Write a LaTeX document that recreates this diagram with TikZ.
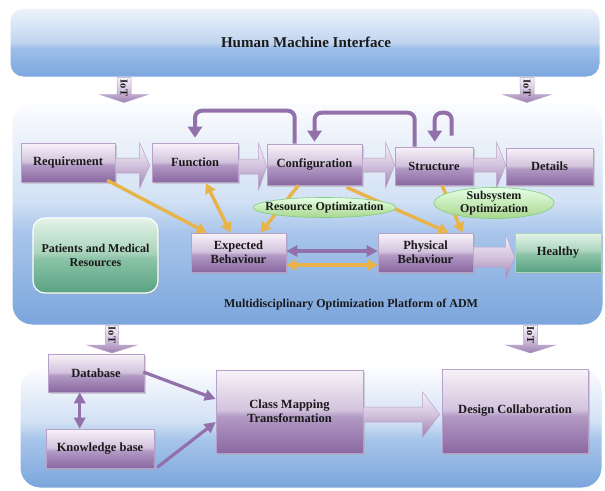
\documentclass[tikz,border=0pt]{standalone}
\usepackage{fontspec}
\setmainfont{Liberation Serif}
\usetikzlibrary{arrows.meta,calc,shapes.geometric,shadows}
\definecolor{pA}{HTML}{8A68A2}
\definecolor{pB}{HTML}{B29AC4}
\definecolor{pC}{HTML}{D3C3DD}
\definecolor{pD}{HTML}{F7F3F9}
\definecolor{bA}{HTML}{7AA5DC}
\definecolor{bB}{HTML}{A9C6EB}
\definecolor{bC}{HTML}{D2E1F4}
\definecolor{bD}{HTML}{FBFCFE}
\definecolor{hA}{HTML}{7BA6DE}
\definecolor{hB}{HTML}{9EBFE9}
\definecolor{hC}{HTML}{C0D5F0}
\definecolor{hD}{HTML}{EEF4FB}
\definecolor{gA}{HTML}{58A283}
\definecolor{gB}{HTML}{8BC3A5}
\definecolor{gC}{HTML}{AAD4BC}
\definecolor{gD}{HTML}{E4F3E8}
\definecolor{pborder}{HTML}{B8A1C9}
\definecolor{pline}{HTML}{9271AB}
\definecolor{oline}{HTML}{E8B44A}
\definecolor{txt}{HTML}{1A1A1A}
\pgfdeclareverticalshading{purpbox}{100bp}{color(0bp)=(pA); color(25bp)=(pA); color(47bp)=(pB); color(51bp)=(pC); color(75bp)=(pD); color(100bp)=(pD)}
\pgfdeclareverticalshading{bluebox}{100bp}{color(0bp)=(bA); color(25bp)=(bA); color(46bp)=(bB); color(53bp)=(bC); color(75bp)=(bD); color(100bp)=(bD)}
\pgfdeclareverticalshading{hmibox}{100bp}{color(0bp)=(hA); color(25bp)=(hA); color(46bp)=(hB); color(50bp)=(hC); color(75bp)=(hD); color(100bp)=(hD)}
\pgfdeclareverticalshading{greenbox}{100bp}{color(0bp)=(gA); color(25bp)=(gA); color(48bp)=(gB); color(52bp)=(gC); color(75bp)=(gD); color(100bp)=(gD)}
\newcommand\hblock[5]{%
  \path[blockarrow] let \p1=#1, \p2=#2 in
  (\x1,{\y1+#3pt}) -- ({\x2-#5pt},{\y1+#3pt}) -- ({\x2-#5pt},{\y1+#4pt}) -- (\x2,\y1)
  -- ({\x2-#5pt},{\y1-#4pt}) -- ({\x2-#5pt},{\y1-#3pt}) -- (\x1,{\y1-#3pt}) -- cycle;}
\newcommand\vblock[5]{%
  \path[blockarrow] let \p1=#1, \p2=#2 in
  ({\x1-#3pt},\y1) -- ({\x1-#3pt},{\y2+#5pt}) -- ({\x1-#4pt},{\y2+#5pt}) -- (\x1,\y2)
  -- ({\x1+#4pt},{\y2+#5pt}) -- ({\x1+#3pt},{\y2+#5pt}) -- ({\x1+#3pt},\y1) -- cycle;}
\tikzset{
  lab/.style={font=\fontsize{12.5}{14}\selectfont\bfseries, text=txt, align=center},
  pbox/.style={rectangle, draw=pborder, line width=0.6pt, shade, shading=purpbox, inner sep=0pt,
    lab, drop shadow={shadow xshift=1.5pt, shadow yshift=-1.5pt, fill=black!35, opacity=0.45}},
  gbox/.style={pbox, shading=greenbox, draw=gC},
  container/.style={rectangle, draw=white, line width=1pt, shade, inner sep=0pt},
  blockarrow/.style={draw=pborder, line width=0.5pt, top color=pD, bottom color=pA!85, middle color=pC},
  iotlab/.style={font=\fontsize{10.5}{12}\selectfont\bfseries, text=txt, rotate=-90, inner sep=0pt},
  fb/.style={draw=pline, line width=4pt, rounded corners=7pt, -{Triangle[width=14pt,length=11pt]}},
  plarr/.style={draw=pline, line width=3.2pt, -{Triangle[width=11pt,length=11pt]}},
  pldbl/.style={draw=pline, line width=3.2pt, {Triangle[width=11pt,length=11pt]}-{Triangle[width=11pt,length=11pt]}},
  olarr/.style={draw=oline, line width=3.4pt, -{Triangle[width=11pt,length=10pt]}},
  oldbl/.style={draw=oline, line width=3.4pt, {Triangle[width=11pt,length=10pt]}-{Triangle[width=11pt,length=10pt]}},
  gell/.style={ellipse, draw=green!45!gray!70, line width=0.6pt, top color=green!10, bottom color={rgb,255:red,168;green,214;blue,140}, inner sep=0pt},
}
\begin{document}
\begin{tikzpicture}[x=1pt,y=-1pt]
\useasboundingbox (0,0) rectangle (605,490);
\fill[white] (0,0) rectangle (605,490);
% containers
\node[container, shading=hmibox, rounded corners=13pt, minimum width=590pt, minimum height=69pt] (hmi) at (305,42.5) {};
\node[lab, font=\fontsize{15}{17}\selectfont\bfseries] (hmilab) at (306,42) {Human Machine Interface};
\node[container, shading=bluebox, rounded corners=20pt, minimum width=591pt, minimum height=222pt] (mop) at (307.5,214) {};
\node[lab, font=\fontsize{12}{14}\selectfont\bfseries] (moplab) at (351,305) {Multidisciplinary Optimization Platform of ADM};
\node[container, shading=bluebox, rounded corners=20pt, minimum width=582pt, minimum height=119pt] (bot) at (311,428.5) {};
% boxes
\node[pbox, minimum width=94pt, minimum height=39pt] (req) at (68,162.5) {Requirement};
\node[pbox, minimum width=86pt, minimum height=39pt] (fun) at (195,162.5) {Function};
\node[pbox, minimum width=95pt, minimum height=41pt] (conf) at (314.5,164.5) {Configuration};
\node[pbox, minimum width=78pt, minimum height=38pt] (struc) at (434,166) {Structure};
\node[pbox, minimum width=87pt, minimum height=37pt] (det) at (549.5,166.5) {Details};
\node[pbox, minimum width=95pt, minimum height=39pt] (exp) at (238.5,252.5) {Expected\\Behaviour};
\node[pbox, minimum width=95pt, minimum height=39pt] (phys) at (425.5,252.5) {Physical\\Behaviour};
\node[gbox, minimum width=86pt, minimum height=39pt] (healthy) at (558,252.5) {Healthy};
\node[gbox, rounded corners=12pt, draw=white, line width=1.2pt, minimum width=125pt, minimum height=75pt, font=\fontsize{12}{14.3}\selectfont\bfseries] (pmr) at (95.5,255.5) {Patients and Medical\\Resources};
\node[pbox, minimum width=96pt, minimum height=38pt] (db) at (96,373) {Database};
\node[pbox, minimum width=108pt, minimum height=39pt] (kb) at (100,448.5) {Knowledge base};
\node[pbox, minimum width=147pt, minimum height=83pt] (cmt) at (289.5,411.5) {Class Mapping\\Transformation};
\node[pbox, minimum width=146pt, minimum height=84pt] (dc) at (515,411) {Design Collaboration};
% IoT arrows
\coordinate (iotA) at (124,0);
\coordinate (iotB) at (527,0);
\coordinate (iotC) at (112,353);
\coordinate (iotD) at (530.5,353);
\vblock{(iotA |- hmi.south)}{(iotA |- mop.north)}{7}{24}{8}
\vblock{(iotB |- hmi.south)}{(iotB |- mop.north)}{7}{24}{8}
\vblock{(iotC |- mop.south)}{(iotC)}{6.5}{25}{8}
\vblock{(iotD |- mop.south)}{(iotD)}{7}{25}{8}
\node[iotlab] (iotAl) at (124,88) {IoT};
\node[iotlab] (iotBl) at (527,88) {IoT};
\node[iotlab] (iotCl) at (112,335) {IoT};
\node[iotlab] (iotDl) at (530.5,335) {IoT};
% feedback arrows
\draw[fb] ($(conf.north west)+(28,0)$) -- ++(0,-33) -| ($(fun.north)+(0,-5)$);
\draw[fb] ($(struc.north west)+(20,0)$) -- ++(0,-34) -| ($(conf.north)+(0,-2)$);
\draw[fb] ($(struc.north west)+(57,-11)$) -- ++(0,-23) -| ($(struc.north west)+(40,-5)$);
% block arrows
\hblock{($(req.east)+(0,3)$)}{($(fun.west)+(-2,3)$)}{7.5}{22.5}{10}
\hblock{($(fun.east)+(0,4)$)}{($(conf.west)+(0,2)$)}{7.5}{23}{8}
\hblock{($(conf.east)+(0,0.5)$)}{($(struc.west)+(0,-1)$)}{7}{22.5}{9}
\hblock{($(struc.east)+(0,-1)$)}{($(det.west)+(0,-1.5)$)}{7}{22.5}{9}
\hblock{($(phys.east)+(0,4.5)$)}{($(healthy.west)+(0,4.5)$)}{10}{22.5}{9}
\hblock{($(cmt.east)+(0,3)$)}{($(dc.west)+(-2,3.5)$)}{7.5}{22.5}{17}
% orange connectors
\draw[olarr] ($(req.south east)+(-8,-2)$) -- ($(exp.north west)+(16,0)$);
\draw[oldbl] ($(fun.south)+(11,1)$) -- ($(exp.north)+(-8,0)$);
\draw[olarr] ($(conf.south)+(-16,0)$) -- ($(exp.north)+(22,0)$);
\draw[olarr] ($(conf.south)+(32,2)$) -- ($(phys.north)+(23,0)$);
\draw[olarr] ($(struc.south)+(8,0)$) -- ($(phys.north)+(37,0)$);
\draw[pldbl] ($(exp.east)+(0,-1.5)$) -- ($(phys.west)+(0,-1.5)$);
\draw[oldbl] ($(exp.east)+(0,12.5)$) -- ($(phys.west)+(0,12.5)$);
% bottom connectors
\draw[pldbl] ($(db.south west)+(32,0)$) -- ($(kb.north west)+(34,0)$);
\draw[plarr] ($(db.east)+(-1,-1)$) -- ($(cmt.west)+(0,-12.5)$);
\draw[plarr] ($(kb.south east)+(3,-1)$) -- ($(cmt.west)+(0,10.5)$);
% ellipses
\node[gell, minimum width=143pt, minimum height=20pt] (res) at (324.5,207.5) {};
\node[lab, font=\fontsize{12}{14}\selectfont\bfseries] (restxt) at (res.center) {Resource Optimization};
\node[gell, minimum width=120pt, minimum height=31pt] (sub) at (494,203) {};
\node[lab, font=\fontsize{12}{13.5}\selectfont\bfseries] (subtxt) at (sub.center) {Subsystem\\Optimization};
\end{tikzpicture}
\end{document}
